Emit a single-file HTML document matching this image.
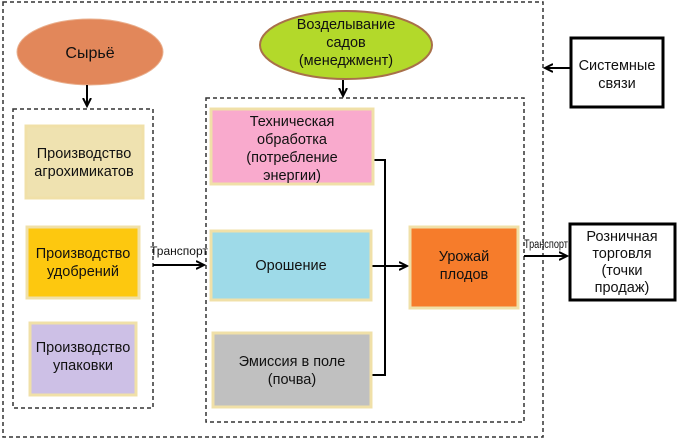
<!DOCTYPE html>
<html><head><meta charset="utf-8"><style>
html,body{margin:0;padding:0;background:#fff;}
svg{display:block;}
text{font-family:"Liberation Sans",sans-serif;font-size:14.5px;fill:#111;text-anchor:middle;}
</style></head><body>
<svg width="680" height="440" viewBox="0 0 680 440" xmlns="http://www.w3.org/2000/svg">
<defs>
<marker id="a" markerWidth="10" markerHeight="10" refX="8" refY="5" orient="auto" markerUnits="userSpaceOnUse">
<path d="M0,1 L8,5 L0,9" fill="none" stroke="#000" stroke-width="2"/>
</marker>
</defs>
<g fill="none" stroke="#333" stroke-width="1.5" stroke-dasharray="4,3">
<rect x="3" y="2" width="540" height="435"/>
<rect x="13" y="109" width="140" height="299"/>
<rect x="206" y="98" width="318" height="324"/>
</g>
<ellipse cx="90" cy="52" rx="73" ry="33" fill="#e2875a" stroke="#e9b08f" stroke-width="1"/>
<text x="90" y="58" style="font-size:16px">Сырьё</text>
<ellipse cx="346" cy="45" rx="86" ry="34" fill="#b3d92a" stroke="#a8704a" stroke-width="2"/>
<text x="346" y="29">Возделывание</text>
<text x="346" y="47">садов</text>
<text x="346" y="65">(менеджмент)</text>
<g stroke="#000" stroke-width="2" fill="none">
<line x1="87" y1="85" x2="87" y2="106" marker-end="url(#a)"/>
<line x1="343" y1="80" x2="343" y2="96" marker-end="url(#a)"/>
<line x1="153" y1="265" x2="204" y2="265" marker-end="url(#a)"/>
<line x1="372" y1="266" x2="407" y2="266" marker-end="url(#a)"/>
<polyline points="373,160 385,160 385,375 372,375"/>
<line x1="524" y1="256" x2="567" y2="256" marker-end="url(#a)"/>
<line x1="570" y1="68" x2="545" y2="68" marker-end="url(#a)"/>
</g>
<g stroke="#f0e0a8" stroke-width="3">
<rect x="26" y="126" width="117" height="72" fill="#efe2b0"/>
<rect x="27" y="227" width="112" height="71" fill="#fdc80f"/>
<rect x="30" y="323" width="106" height="72" fill="#cdc0e6"/>
<rect x="211" y="109" width="162" height="75" fill="#f9aacd"/>
<rect x="211" y="231" width="160" height="69" fill="#9edae8"/>
<rect x="213" y="333" width="158" height="74" fill="#c0c0c0"/>
<rect x="410" y="227" width="108" height="81" fill="#f67c2b"/>
</g>
<text x="84" y="158">Производство</text>
<text x="84" y="176">агрохимикатов</text>
<text x="83" y="258">Производство</text>
<text x="83" y="276">удобрений</text>
<text x="83" y="352">Производство</text>
<text x="83" y="370">упаковки</text>
<text x="292" y="126">Техническая</text>
<text x="292" y="144">обработка</text>
<text x="292" y="162">(потребление</text>
<text x="292" y="180">энергии)</text>
<text x="291" y="270">Орошение</text>
<text x="292" y="366">Эмиссия в поле</text>
<text x="292" y="384">(почва)</text>
<text x="464" y="261">Урожай</text>
<text x="464" y="279">плодов</text>
<text x="179" y="255" style="font-size:12px">Транспорт</text>
<text x="546" y="248" style="font-size:11.5px" textLength="44" lengthAdjust="spacingAndGlyphs">Транспорт</text>
<rect x="571" y="38" width="92" height="69" fill="#fff" stroke="#000" stroke-width="3"/>
<text x="617" y="70">Системные</text>
<text x="617" y="88">связи</text>
<rect x="570" y="224" width="105" height="76" fill="#fff" stroke="#000" stroke-width="3"/>
<text x="622" y="241">Розничная</text>
<text x="622" y="258">торговля</text>
<text x="622" y="275">(точки</text>
<text x="622" y="292">продаж)</text>
</svg>
</body></html>
